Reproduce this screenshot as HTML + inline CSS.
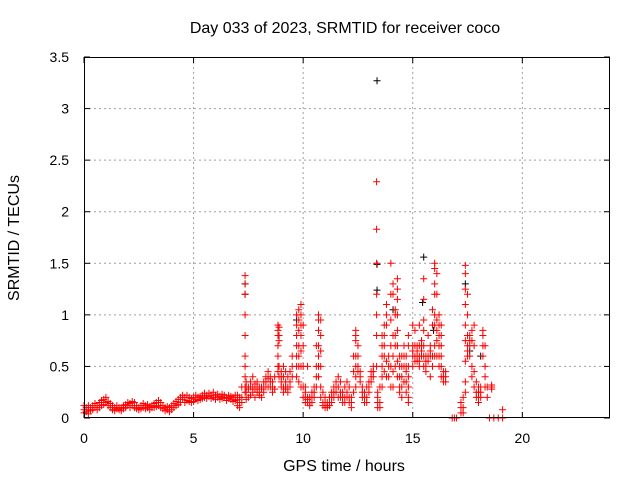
<!DOCTYPE html>
<html><head><meta charset="utf-8"><style>
body{margin:0;background:#fff;width:640px;height:480px;overflow:hidden}
svg text{font-family:"Liberation Sans",sans-serif;font-size:14px;fill:#000}
svg text.big{font-size:16px}
</style></head><body>
<svg id="chart" width="640" height="480" xmlns="http://www.w3.org/2000/svg">
<rect width="640" height="480" fill="#fff"/>
<g id="grid"></g>
<g id="marks"></g>
<g id="axes"></g>
<text class="big" x="345" y="33" text-anchor="middle">Day 033 of 2023, SRMTID for receiver coco</text>
<text class="big" x="344" y="471" text-anchor="middle">GPS time / hours</text>
<text class="big" transform="translate(19,238) rotate(-90)" text-anchor="middle">SRMTID / TECUs</text>
</svg>
<script>
const xTicks=[0,5,10,15,20];
const yTicks=[0,0.5,1,1.5,2,2.5,3,3.5];
const yTickLabels=["0","0.5","1","1.5","2","2.5","3","3.5"];
const redTimes=[0,0.1,0.2,0.3,0.4,0.5,0.6,0.7,0.8,0.9,1.0,1.1,1.2,1.3,1.4,1.5,1.6,1.7,1.8,1.9,2.0,2.1,2.2,2.3,2.4,2.5,2.6,2.7,2.8,2.9,3.0,3.1,3.2,3.3,3.4,3.5,3.6,3.7,3.8,3.9,4.0,4.1,4.2,4.3,4.4,4.5,4.6,4.7,4.8,4.9,5.0,5.1,5.2,5.3,5.4,5.5,5.6,5.7,5.8,5.9,6.0,6.1,6.2,6.3,6.4,6.5,6.6,6.7,6.8,6.9,7.0,7.1,7.2,7.35,7.4,7.5,7.6,7.7,7.8,7.9,8.0,8.1,8.2,8.3,8.4,8.5,8.6,8.7,8.85,8.9,9.0,9.1,9.2,9.3,9.4,9.5,9.7,9.8,9.9,10.0,10.1,10.2,10.3,10.4,10.5,10.6,10.7,10.8,10.9,11.0,11.1,11.2,11.3,11.4,11.5,11.6,11.7,11.8,11.9,12.0,12.1,12.2,12.3,12.4,12.5,12.6,12.7,12.8,12.9,13.0,13.1,13.2,13.35,13.4,13.5,13.6,13.7,13.8,13.9,14.0,14.1,14.2,14.3,14.4,14.5,14.6,14.7,14.8,15.0,15.1,15.2,15.3,15.4,15.5,15.6,15.7,15.8,15.9,16.0,16.1,16.2,16.3,16.4,16.5,16.8,16.9,17.0,17.2,17.3,17.4,17.5,17.6,17.7,17.8,17.9,18.0,18.1,18.2,18.3,18.4,18.5,18.6,18.7,18.9,19.1];
const redValues=[[.12,.05,.08],[.1,.06],[.08,.12,.04],[.1,.07],[.12,.08],[.1,.14],[.12,.08],[.15,.1],[.17,.12],[.18,.13],[.15,.2],[.16,.12],[.14,.1],[.12,.08],[.1,.07],[.09,.12],[.08,.1],[.1,.07],[.12,.09],[.13,.1],[.12,.15],[.14,.1],[.16,.12],[.15,.1],[.12,.09],[.1,.08],[.12,.09],[.1,.14],[.09,.12],[.1,.13],[.11,.08],[.12,.1],[.14,.1],[.15,.11],[.17,.12],[.15,.1],[.12,.09],[.1,.07],[.08,.11],[.1,.06],[.12,.08],[.14,.1],[.16,.12],[.18,.13],[.2,.15],[.18,.22],[.2,.15],[.22,.17],[.2,.16],[.19,.15],[.2,.16],[.22,.18],[.2,.17],[.21,.18],[.22,.19],[.24,.2],[.22,.19],[.21,.24],[.22,.19],[.25,.2],[.22,.18],[.2,.23],[.21,.18],[.23,.19],[.22,.2],[.2,.17],[.22,.19],[.21,.18],[.2,.16],[.22,.17],[.18,.12,.22],[.15,.1,.2],[.2,.3,.15],[.3,.6,.8,1.0,1.2,1.3,1.38,.5,.4,.25],[.25,.3,.35,.18],[.2,.3,.28],[.22,.3,.35],[.25,.3,.4],[.2,.28,.33],[.25,.35,.3],[.22,.3,.25],[.3,.2,.28],[.35,.3,.25],[.4,.35,.3],[.45,.38,.3],[.4,.3,.35],[.35,.3,.25],[.4,.28],[.85,.9,.8,.7,.6,.5,.45],[.88,.8,.75,.5,.4],[.45,.4,.35,.3],[.5,.4,.3,.25],[.45,.35,.3,.28],[.4,.3,.25],[.35,.3,.45],[.5,.6,.4],[1.0,.9,.8,.7,.6,.5,.4],[1.05,.95,.85,.7,.6,.5,.35],[1.1,1.0,.9,.8,.65,.5,.3],[.9,.7,.5,.3,.2],[.2,.15,.25,.3],[.18,.2,.15,.5],[.15,.2,.12],[.2,.25,.15],[.3,.25,.2],[.7,.5,.4,.3],[1.0,.95,.85,.7,.6,.5,.4],[.95,.8,.65,.5,.3,.2],[.25,.15,.12],[.15,.1,.2],[.12,.15,.1],[.15,.2,.12],[.2,.25,.15],[.3,.25,.2],[.35,.3,.25],[.4,.3,.2],[.35,.25,.2],[.25,.2,.15],[.2,.15,.3],[.25,.2,.35],[.3,.2,.15],[.2,.15,.1],[.25,.45,.6],[.85,.8,.75,.6,.5,.4,.3],[.7,.6,.5,.45],[.45,.4,.35],[.3,.2,.25],[.2,.15,.25],[.3,.2,.15],[.35,.3,.25],[.4,.45,.35],[.5,.45,.4],[.5,.8,1.0,1.2,1.5,1.83,2.29],[.15,.1,.2,.25],[.15,.1,.3],[.5,.6,.7,.8,.4,.3],[.7,.8,.9,.6,.45],[.9,1.0,1.1,.55,.4],[.6,.5,.4],[1.5,1.2,.95,.7,.5,.3],[1.3,1.2,.8,.6,.45,.3],[1.05,1.0,.8,.7,.5],[1.35,1.25,1.15,1.0,.85,.7,.55,.4],[.6,.5,.4,.3,.25],[.5,.6,.4,.3,.2],[.7,.6,.5,.35],[.6,.5,.45,.35,.25],[.15,.2,.3,.4,.5,.7,.8],[.6,.65,.7,.5,.9],[.55,.6,.7,.85],[.55,.6,.65,.7],[.5,.55,.6,.7,.9],[.6,.65,.7,.75],[1.35,1.15,.95,.85,.7,.6,.5],[.6,.5,.45,.55],[.6,.55,.8],[.7,.65,.6,.4],[1.05,.9,.6,.5],[1.5,1.45,1.3,1.2,1.0,.9,.7,.6],[1.4,1.2,.95,.85,.75,.6],[1.0,.9,.8,.7,.6,.5],[.9,.8,.7,.6,.5,.4],[.45,.4,.35],[.35,.4,.45],[0],[0],[0],[.05,.1,.15],[.1,.05,.2],[.25,.35,.55,.75,.9,1.1,1.25,1.4,1.48],[.8,.7,.65,.6,1.2,1.0],[.8,.75,.7,.6],[.85,.75,.5,.4],[.9,.7,.45,.3],[.35,.25,.2],[.3,.25,.2,.15],[.3,.2,.25],[.6,.7,.8,.85],[.7,.5,.3,.4],[.3,.2],[0],[.3,.28,.32],[0],[0],[.08,0]];
const blackTimes=[13.37,13.37,13.37,15.5,15.45,7.35,7.35,17.4,14.1,15.95,9.7,17.6,18.1];
const blackValues=[3.27,1.49,1.24,1.56,1.12,1.3,1.2,1.3,1.05,0.85,0.95,0.65,0.6];

const L=84,R=610,T=57,B=418,XMAX=24,YMAX=3.5;
const xs=t=>L+(R-L)*t/XMAX;
const ys=v=>B-(B-T)*v/YMAX;
const NS="http://www.w3.org/2000/svg";
function mk(tag,attrs,parent){const e=document.createElementNS(NS,tag);for(const k in attrs)e.setAttribute(k,attrs[k]);parent.appendChild(e);return e;}
const grid=document.getElementById('grid'),axes=document.getElementById('axes'),marks=document.getElementById('marks');
xTicks.forEach(t=>{
  const x=xs(t);
  if(t>0){const g=mk('line',{x1:x,x2:x,y1:T,y2:B,stroke:'#a0a0a0','stroke-dasharray':'2,3'},grid);
  
  }
  mk('line',{x1:x,x2:x,y1:B,y2:B-6,stroke:'#000'},axes);
  mk('line',{x1:x,x2:x,y1:T,y2:T+6,stroke:'#000'},axes);
  const lb=mk('text',{x:x,y:B+25,'text-anchor':'middle'},axes);lb.textContent=String(t);
  
  
});
yTicks.forEach((v,i)=>{
  const y=ys(v);
  if(v>0&&v<YMAX){const g=mk('line',{x1:L,x2:R,y1:y,y2:y,stroke:'#a0a0a0','stroke-dasharray':'2,3'},grid);
  
  }
  mk('line',{x1:L,x2:L+6,y1:y,y2:y,stroke:'#000'},axes);
  mk('line',{x1:R,x2:R-6,y1:y,y2:y,stroke:'#000'},axes);
  const lb=mk('text',{x:L-15,y:y+5,'text-anchor':'end'},axes);lb.textContent=yTickLabels[i];
  
  
});
const border=mk('rect',{x:L+0.5,y:T+0.5,width:R-L-1,height:B-T-1,fill:'none',stroke:'#000'},axes);


function plus(t,v,color){
  const x=xs(t),y=ys(v);
  const p=mk('path',{d:`M${x-3.5},${y}H${x+3.5}M${x},${y-3.5}V${y+3.5}`,stroke:color,'stroke-width':1,fill:'none'},marks);
  
  
}
blackTimes.forEach((t,i)=>plus(t,blackValues[i],'#000'));
redTimes.forEach((t,i)=>redValues[i].forEach(v=>plus(t,v,'#ff0000')));
</script>
</body></html>
